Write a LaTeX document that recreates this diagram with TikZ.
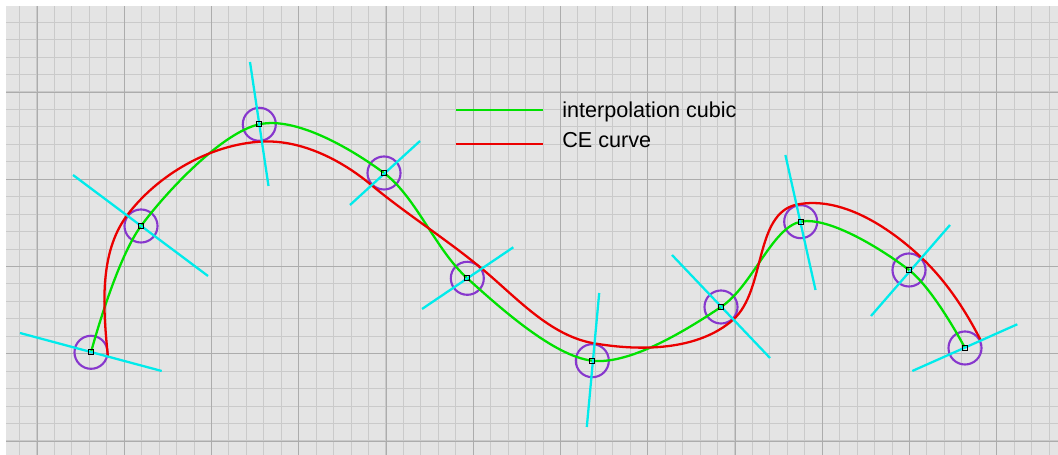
\documentclass[tikz,border=0pt]{standalone}
\usepackage{fontspec}
\setmainfont{Liberation Sans}
\usepackage{xcolor}
\usepackage{tikz}

\definecolor{panelgrey}{RGB}{228,228,228}
\definecolor{gridlight}{RGB}{202,202,202}
\definecolor{griddark}{RGB}{172,172,172}
\definecolor{interpgreen}{RGB}{0,225,0}
\definecolor{cered}{RGB}{235,0,0}
\definecolor{normalcyan}{RGB}{0,235,235}
\definecolor{ringviolet}{RGB}{135,55,205}

\begin{document}
\begin{tikzpicture}[
  x=0.02cm, y=-0.02cm,
  every node/.style={font=\fontsize{12.3}{14}\selectfont},
  gridminor/.style={draw=gridlight, line width=0.6pt},
  gridmajor/.style={draw=griddark, line width=0.55pt},
  interp/.style={draw=interpgreen, line width=1.3pt},
  cecurve/.style={draw=cered, line width=1.3pt},
  normalline/.style={draw=normalcyan, line width=1.3pt},
  ring/.style={circle, draw=ringviolet, line width=1.2pt,
               minimum size=18.8pt, inner sep=0pt},
  knot/.style={rectangle, draw=black, line width=0.6pt,
               minimum size=2.8pt, inner sep=0pt},
  legendtext/.style={anchor=base west, inner sep=0pt},
]
  \useasboundingbox (0,0) rectangle (1058,455);

  % ── Panel and grid ───────────────────────────────
  \fill[white] (0,0) rectangle (1058,455);
  \fill[panelgrey] (6,6.5) rectangle (1058,455);
  \foreach \k in {-1,...,58}
    \draw[gridminor] ({37+17.45*\k},6.5) -- ({37+17.45*\k},455);
  \foreach \k in {-4,...,20}
    \draw[gridminor] (6,{92+17.45*\k}) -- (1058,{92+17.45*\k});
  \foreach \m in {0,...,11}
    \draw[gridmajor] ({37+87.25*\m},6.5) -- ({37+87.25*\m},455);
  \foreach \m in {0,...,4}
    \draw[gridmajor] (6,{92+87.25*\m}) -- (1058,{92+87.25*\m});

  % ── Control circles ──────────────────────────────
  \node[ring] (r1)  at (91,352.3)  {};
  \node[ring] (r2)  at (141,226)   {};
  \node[ring] (r3)  at (259.3,124.3) {};
  \node[ring] (r4)  at (384,173)   {};
  \node[ring] (r5)  at (467.3,278.3) {};
  \node[ring] (r6)  at (592.3,360.7) {};
  \node[ring] (r7)  at (721,307)   {};
  \node[ring] (r8)  at (800.7,221.7) {};
  \node[ring] (r9)  at (909,270)   {};
  \node[ring] (r10) at (965,348)   {};

  % ── Interpolating cubic (green) ──────────────────
  \draw[interp] plot[smooth, tension=0.55] coordinates {
    (r1.center) (r2.center) (r3.center) (r4.center) (r5.center)
    (r6.center) (r7.center) (r8.center) (r9.center) (r10.center)};

  % ── CE curve (red) ───────────────────────────────
  \draw[cecurve] (107.9,356.5)
    .. controls (103.2,309.3) and (98.6,253.4) .. (127,215.5)
    .. controls (157.7,174.5) and (210.6,144.2) .. (261.8,141.6)
    .. controls (301.2,139.6) and (340.9,159.7) .. (371.1,184.8)
    .. controls (406.8,214.4) and (446.2,239.1) .. (481.9,268.7)
    .. controls (516.5,297.4) and (549.7,335.7) .. (593.9,343.3)
    .. controls (640.3,351.3) and (697.8,350.8) .. (733.1,319.7)
    .. controls (766,290.7) and (753.9,213.4) .. (796.9,204.6)
    .. controls (840.7,195.7) and (887.9,226.4) .. (920.5,256.8)
    .. controls (945.7,280.3) and (965.5,310.2) .. (981,340.9);

  % ── Normals (cyan) ───────────────────────────────
  \draw[normalline] (20,333)     -- (161.7,371);
  \draw[normalline] (73,175)     -- (208,276);
  \draw[normalline] (250,62)     -- (268.5,186);
  \draw[normalline] (350,205)    -- (420,141);
  \draw[normalline] (422,309)    -- (513.3,247.3);
  \draw[normalline] (599.2,293)  -- (586.8,427);
  \draw[normalline] (672,255)    -- (770,358);
  \draw[normalline] (785.4,155)  -- (815.5,290);
  \draw[normalline] (871,316)    -- (950,225);
  \draw[normalline] (912.3,371)  -- (1017.3,324.3);

  % ── Knots ────────────────────────────────────────
  \node[knot] (k1)  at (r1)  {};
  \node[knot] (k2)  at (r2)  {};
  \node[knot] (k3)  at (r3)  {};
  \node[knot] (k4)  at (r4)  {};
  \node[knot] (k5)  at (r5)  {};
  \node[knot] (k6)  at (r6)  {};
  \node[knot] (k7)  at (r7)  {};
  \node[knot] (k8)  at (r8)  {};
  \node[knot] (k9)  at (r9)  {};
  \node[knot] (k10) at (r10) {};

  % ── Legend ───────────────────────────────────────
  \coordinate (lgA) at (456,110);
  \coordinate (lgB) at (543,110);
  \coordinate (lrA) at (456,144);
  \coordinate (lrB) at (543,144);
  \draw[interp]  (lgA) -- (lgB);
  \draw[cecurve] (lrA) -- (lrB);
  \node[legendtext] (tinterp) at (562,117.3) {interpolation cubic};
  \node[legendtext] (tce)     at (562,147.3) {CE curve};

\end{tikzpicture}
\end{document}
